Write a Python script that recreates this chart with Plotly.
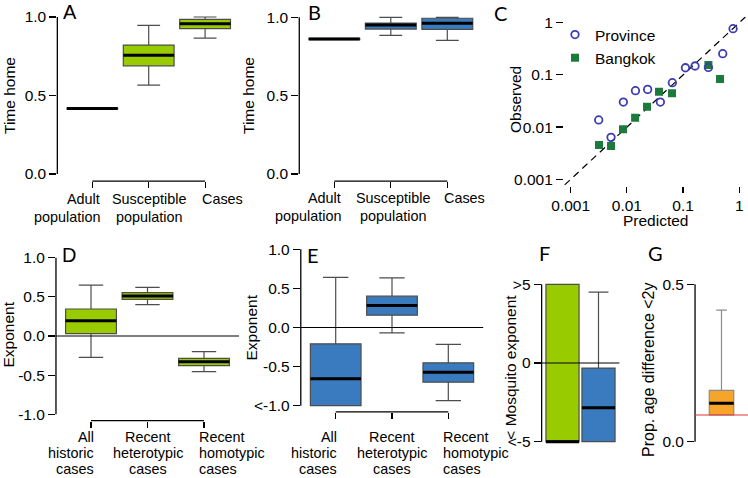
import numpy as np
import plotly.graph_objects as go

W, H = 748, 478
FONT = "Liberation Sans"

# ---------------- data ----------------
# Panel A (Time home, green)
A_labels = ["Adult\npopulation", "Susceptible\npopulation", "Cases"]
A_lower = [0.415, 0.566, 0.866]
A_q1 = [0.415, 0.689, 0.926]
A_med = [0.417, 0.757, 0.957]
A_q3 = [0.419, 0.821, 0.985]
A_upper = [0.419, 0.947, 1.000]

# Panel B (Time home, blue)
B_labels = ["Adult\npopulation", "Susceptible\npopulation", "Cases"]
B_lower = [0.858, 0.885, 0.853]
B_q1 = [0.858, 0.925, 0.923]
B_med = [0.862, 0.951, 0.962]
B_q3 = [0.866, 0.963, 0.994]
B_upper = [0.866, 1.000, 1.000]

# Panel C (observed vs predicted)
prov_pred = [0.00315, 0.00522, 0.00865, 0.0142, 0.0234, 0.0394, 0.0644, 0.110, 0.163, 0.282, 0.507, 0.774]
prov_obs = [0.0137, 0.00636, 0.0302, 0.0498, 0.0528, 0.0302, 0.0709, 0.137, 0.148, 0.139, 0.255, 0.767]
bkk_pred = [0.00319, 0.00522, 0.00853, 0.0140, 0.0228, 0.0373, 0.0635, 0.282, 0.454]
bkk_obs = [0.00453, 0.00434, 0.00905, 0.0151, 0.0246, 0.0477, 0.0443, 0.1545, 0.0833]
C_ticks = [0.001, 0.01, 0.1, 1]
C_ticktext = ["0.001", "0.01", "0.1", "1"]

# Panel D (Exponent, green)
D_labels = ["All\nhistoric\ncases", "Recent\nheterotypic\ncases", "Recent\nhomotypic\ncases"]
D_lower = [-0.272, 0.400, -0.455]
D_q1 = [0.030, 0.468, -0.379]
D_med = [0.196, 0.511, -0.328]
D_q3 = [0.345, 0.553, -0.285]
D_upper = [0.651, 0.621, -0.200]

# Panel E (Exponent, blue)
E_labels = ["All\nhistoric\ncases", "Recent\nheterotypic\ncases", "Recent\nhomotypic\ncases"]
E_lower = [-1.000, -0.068, -0.934]
E_q1 = [-1.000, 0.158, -0.699]
E_med = [-0.657, 0.281, -0.571]
E_q3 = [-0.209, 0.400, -0.452]
E_upper = [0.640, 0.635, -0.217]

# Panel F (Mosquito exponent, green & blue)
F_lower = [-5.0, -5.0]
F_q1 = [-5.0, -5.0]
F_med = [-5.0, -2.85]
F_q3 = [5.0, -0.32]
F_upper = [5.0, 4.5]

# Panel G (Prop. age difference <2y)
G_lower = [0.085]
G_q1 = [0.085]
G_med = [0.122]
G_q3 = [0.163]
G_upper = [0.418]
G_ref = 0.085

GREEN = "#99cc00"
BLUE = "#3a7bbf"
ORANGE = "#f7a52a"
EDGE = "#4d4d4d"

# ---------------- layout helpers ----------------
def xdom(p0, s, rng):
    a = (p0 + rng[0] * s) / W
    b = (p0 + rng[1] * s) / W
    return [max(0, a), min(1, b)]

def ydom(p0, s, rng):
    bottom = p0 - rng[0] * s
    top = p0 - rng[1] * s
    return [max(0, 1 - bottom / H), min(1, 1 - top / H)]

# panel geometry: (x pixel of value 0, px/unit, x range), (y pixel of 0, px/unit, y range)
geo = {
    1: dict(x=(92.3, 56.4, [-0.62, 2.62]), y=(174.0, 157.0, [-0.045, 1.04])),
    2: dict(x=(334.3, 56.5, [-0.62, 2.62]), y=(174.0, 156.7, [-0.045, 1.04])),
    3: dict(x=(570.7 + 3 * 56.2, 56.2, [-3.12, 0.115]), y=(22.7, 52.2, [-3.12, 0.115])),
    4: dict(x=(91.0, 56.5, [-0.62, 2.62]), y=(336.0, 78.3, [-1.08, 1.08])),
    5: dict(x=(335.7, 56.3, [-0.62, 2.62]), y=(327.5, 78.2, [-1.08, 1.08])),
    6: dict(x=(562.5, 36.0, [-0.58, 1.58]), y=(363.0, 15.74, [-5.4, 5.4])),
    7: dict(x=(721.5, 49.0, [-0.54, 0.54]), y=(441.7, 314.8, [-0.02, 0.52])),
}

def axn(k):
    return ("x" if k == 1 else f"x{k}"), ("y" if k == 1 else f"y{k}")

fig = go.Figure()

def add_boxes(k, lower, q1, med, q3, upper, colors, width, ww, edge=EDGE):
    xa, ya = axn(k)
    for i in range(len(med)):
        fig.add_trace(go.Box(
            x=[i], lowerfence=[lower[i]], q1=[q1[i]], median=[med[i]], q3=[q3[i]],
            upperfence=[upper[i]], width=width, fillcolor=colors[i],
            line=dict(color=edge, width=1.2), whiskerwidth=ww, boxpoints=False,
            showlegend=False, hoverinfo="skip", xaxis=xa, yaxis=ya))
        fig.add_trace(go.Box(
            x=[i], lowerfence=[med[i]], q1=[med[i]], median=[med[i]], q3=[med[i]],
            upperfence=[med[i]], width=width, fillcolor="rgba(0,0,0,0)",
            line=dict(color="black", width=3), whiskerwidth=0, boxpoints=False,
            showlegend=False, hoverinfo="skip", xaxis=xa, yaxis=ya))

add_boxes(1, A_lower, A_q1, A_med, A_q3, A_upper, [GREEN] * 3, 0.9, 0.45)
add_boxes(2, B_lower, B_q1, B_med, B_q3, B_upper, [BLUE] * 3, 0.9, 0.45)
add_boxes(4, D_lower, D_q1, D_med, D_q3, D_upper, [GREEN] * 3, 0.9, 0.48)
add_boxes(5, E_lower, E_q1, E_med, E_q3, E_upper, [BLUE] * 3, 0.9, 0.5)
add_boxes(6, F_lower, F_q1, F_med, F_q3, F_upper, [GREEN, BLUE], 0.92, 0.6)
add_boxes(7, G_lower, G_q1, G_med, G_q3, G_upper, [ORANGE], 0.5, 0.43, edge="#8c8c8c")

# Panel C
cx = geo[3]["x"][2]
diag = 10 ** np.array([cx[0] - 0.3, cx[1] + 0.3])
fig.add_trace(go.Scatter(x=diag, y=diag, mode="lines",
                         line=dict(color="black", width=1.2, dash="7px,5px"),
                         showlegend=False, hoverinfo="skip", xaxis="x3", yaxis="y3"))
fig.add_trace(go.Scatter(x=bkk_pred, y=bkk_obs, mode="markers", name="Bangkok",
                         marker=dict(symbol="square", size=8, color="#1b7a3c"),
                         legendrank=2, xaxis="x3", yaxis="y3"))
fig.add_trace(go.Scatter(x=prov_pred, y=prov_obs, mode="markers", name="Province",
                         marker=dict(symbol="circle-open", size=7.5, color="#3d3db3",
                                     line=dict(width=1.8, color="#3d3db3")),
                         legendrank=1, xaxis="x3", yaxis="y3"))

tickfont = dict(family=FONT, size=15.5, color="black")
layout = dict(
    template="none",
    width=W, height=H, margin=dict(l=0, r=0, t=0, b=0, autoexpand=False),
    paper_bgcolor="white", plot_bgcolor="rgba(0,0,0,0)",
    font=dict(family=FONT, color="black"),
    boxmode="overlay", showlegend=True,
    legend=dict(x=555 / W, y=1 - 18 / H, xanchor="left", yanchor="top",
                font=dict(family=FONT, size=15.5, color="black"),
                bgcolor="rgba(0,0,0,0)", borderwidth=0, tracegroupgap=0, itemwidth=30),
)

ytickspec = {
    1: ([0, 0.5, 1], ["0.0", "0.5", "1.0"]),
    2: ([0, 0.5, 1], ["0.0", "0.5", "1.0"]),
    3: (C_ticks, C_ticktext),
    4: ([-1, -0.5, 0, 0.5, 1], ["-1.0", "-0.5", "0.0", "0.5", "1.0"]),
    5: ([-1, -0.5, 0, 0.5, 1], ["&lt;-1.0", "-0.5", "0.0", "0.5", "1.0"]),
    6: ([-5, 0, 5], ["&lt;-5", "0", "&gt;5"]),
    7: ([0, 0.5], ["0.0", "0.5"]),
}

shapes = []
for k, g in geo.items():
    xa, ya = axn(k)
    xname = "xaxis" if k == 1 else f"xaxis{k}"
    yname = "yaxis" if k == 1 else f"yaxis{k}"
    is_log = k == 3
    xd = xdom(g["x"][0], g["x"][1], g["x"][2])
    yd = ydom(g["y"][0], g["y"][1], g["y"][2])
    xax = dict(domain=xd, range=g["x"][2], anchor=ya, showgrid=False, zeroline=False,
               showline=False, type="log" if is_log else "linear", fixedrange=True,
               automargin=False)
    if k in (1, 2, 4, 5):
        xax.update(tickmode="array", tickvals=[0, 1, 2], showticklabels=False,
                   ticks="outside", ticklen=6, tickwidth=1.2, tickcolor="black")
        shapes.append(dict(type="line", xref=xa, yref=f"{ya} domain", x0=0, x1=2, y0=0, y1=0,
                           line=dict(color="black", width=1.3)))
    elif is_log:
        xax.update(tickmode="array", tickvals=C_ticks, ticktext=C_ticktext, tickfont=tickfont,
                   ticks="outside", ticklen=6, tickwidth=1.2, tickcolor="black")
        shapes.append(dict(type="line", xref=xa, yref=f"{ya} domain", x0=np.log10(C_ticks[0]),
                           x1=np.log10(C_ticks[-1]), y0=0, y1=0,
                           line=dict(color="black", width=1.3)))
    else:
        xax.update(showticklabels=False, ticks="")
    tv, tt = ytickspec[k]
    yax = dict(domain=yd, range=g["y"][2], anchor=xa, showgrid=False, zeroline=False,
               showline=False, type="log" if is_log else "linear", fixedrange=True,
               automargin=False,
               tickmode="array", tickvals=tv, ticktext=tt, tickfont=tickfont,
               ticks="outside", ticklen=7, tickwidth=1.2, tickcolor="black")
    layout[xname] = xax
    layout[yname] = yax
    y0, y1 = (np.log10(tv[0]), np.log10(tv[-1])) if is_log else (tv[0], tv[-1])
    shapes.append(dict(type="line", xref=f"{xa} domain", yref=ya, x0=0, x1=0, y0=y0, y1=y1,
                       line=dict(color="black", width=1.3)))

# zero lines
for k in (4, 5, 6):
    xa, ya = axn(k)
    shapes.append(dict(type="line", xref=f"{xa} domain", yref=ya, x0=0, x1=1, y0=0, y1=0,
                       line=dict(color="black", width=1.2)))
shapes.append(dict(type="line", xref="x7 domain", yref="y7", x0=0, x1=1, y0=G_ref, y1=G_ref,
                   line=dict(color="#e8342c", width=1.1)))
layout["shapes"] = shapes

annotations = []

def ann(px, py, text, size=15.5, angle=0, family=FONT, xanchor="center", yanchor="middle"):
    annotations.append(dict(xref="paper", yref="paper", x=px / W, y=1 - py / H, text=text,
                            showarrow=False, textangle=angle, xanchor=xanchor, yanchor=yanchor,
                            font=dict(family=family, size=size, color="black")))

# panel letters
ann(70, 12.5, "A", 20)
ann(314, 12.5, "B", 20, family="Lato")
ann(500, 13, "C", 20, family="Lato")
ann(69, 255, "D", 20)
ann(313, 255, "E", 20, family="Lato")
ann(544, 252.5, "F", 20, family="Lato")
ann(655, 252.5, "G", 20, family="Lato")

# axis titles
ann(10, 96, "Time home", angle=-90)
ann(249, 96, "Time home", angle=-90)
ann(515, 100, "Observed", angle=-90)
ann(655, 221, "Predicted")
ann(7.5, 335, "Exponent", angle=-90)
ann(251, 327.5, "Exponent", angle=-90)
ann(511, 366.7, "&lt; Mosquito exponent", angle=-90)
ann(648, 370, "Prop. age difference &lt;2y", size=16, angle=-90)

# category labels under bracket axes
def cat_labels(k, labels, base_py, spacing, shifts, size=14.4):
    xa, _ = axn(k)
    anchors = ["right", "center", "left"]
    for i, lab in enumerate(labels):
        for j, line in enumerate(lab.split("\n")):
            annotations.append(dict(xref=xa, yref="paper", x=i, xshift=shifts[i],
                                    y=1 - (base_py + j * spacing - 5) / H, text=line,
                                    showarrow=False, xanchor=anchors[i], yanchor="middle",
                                    font=dict(family=FONT, size=size, color="black")))

cat_labels(1, A_labels, 204, 17.7, [9.4, 0.5, -5])
cat_labels(2, B_labels, 203.3, 17.7, [8.7, 2, -5.6])
cat_labels(4, D_labels, 442, 16.2, [4.7, 0, -7.3])
cat_labels(5, E_labels, 442, 16.2, [3.3, 0, -7.6])

layout["annotations"] = annotations
fig.update_layout(**layout)
fig.write_html("out.html", config={"displayModeBar": False, "staticPlot": True},
               post_script="document.body.style.margin='0';document.body.style.padding='0';")
